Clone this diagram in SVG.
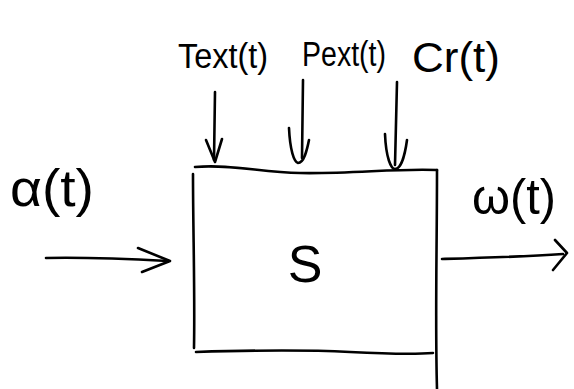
<svg xmlns="http://www.w3.org/2000/svg" width="574" height="389" viewBox="0 0 574 389">
  <style>
    .ink { fill: none; stroke: #000; stroke-width: 2.6; stroke-linecap: round; stroke-linejoin: round; }
    .label { font-family: "Liberation Sans", Arial, sans-serif; fill: #000; }
  </style>
  <rect width="574" height="389" fill="#fff"/>

  <!-- system block S -->
  <g id="system">
    <path class="ink" d="M195 167 C230 164 260 172 300 173 C350 174 400 168 437 170"/>
    <path class="ink" d="M193 174 C193 230 195 290 194 348"/>
    <path class="ink" d="M437 170 C437 250 435 320 437 389"/>
    <path class="ink" d="M196 352 C260 350 310 350 350 352 C390 354 420 354 433 353"/>
    <text class="label" x="305" y="282" font-size="52" text-anchor="middle">S</text>
  </g>

  <!-- labels -->
  <g id="label-text">
    <text class="label" x="178" y="68" font-size="35" textLength="90" lengthAdjust="spacingAndGlyphs">Text(t)</text>
  </g>
  <g id="label-pext">
    <text class="label" x="302" y="66" font-size="35" textLength="84" lengthAdjust="spacingAndGlyphs">Pext(t)</text>
  </g>
  <g id="label-cr">
    <text class="label" x="412" y="72" font-size="42" textLength="88" lengthAdjust="spacingAndGlyphs">Cr(t)</text>
  </g>
  <g id="label-alpha">
    <text class="label" x="10" y="206" font-size="52" textLength="84" lengthAdjust="spacingAndGlyphs">α(t)</text>
  </g>
  <g id="label-omega">
    <text class="label" x="472" y="214" font-size="50" textLength="84" lengthAdjust="spacingAndGlyphs">ω(t)</text>
  </g>

  <!-- connectors -->
  <g id="connectors">
    <!-- input -->
    <path class="ink" d="M46 258 C90 257 130 259 168 261"/>
    <path class="ink" d="M138 248 L170 261 L142 272"/>
    <!-- output -->
    <path class="ink" d="M442 259 C480 258 520 257 563 254"/>
    <path class="ink" d="M555 240 L567 253 L553 270"/>
    <!-- Text -->
    <path class="ink" d="M215 92 L214 160"/>
    <path class="ink" d="M206 140 L215 162 L222 139"/>
    <!-- Pext -->
    <path class="ink" d="M303 80 L302 158"/>
    <path class="ink" d="M289 128 C290 150 294 162 298 163 C304 163 307 150 309 140"/>
    <!-- Cr -->
    <path class="ink" d="M397 82 L395 165"/>
    <path class="ink" d="M385 134 C386 158 391 169 395 169 C401 169 405 155 407 140"/>
  </g>
</svg>
